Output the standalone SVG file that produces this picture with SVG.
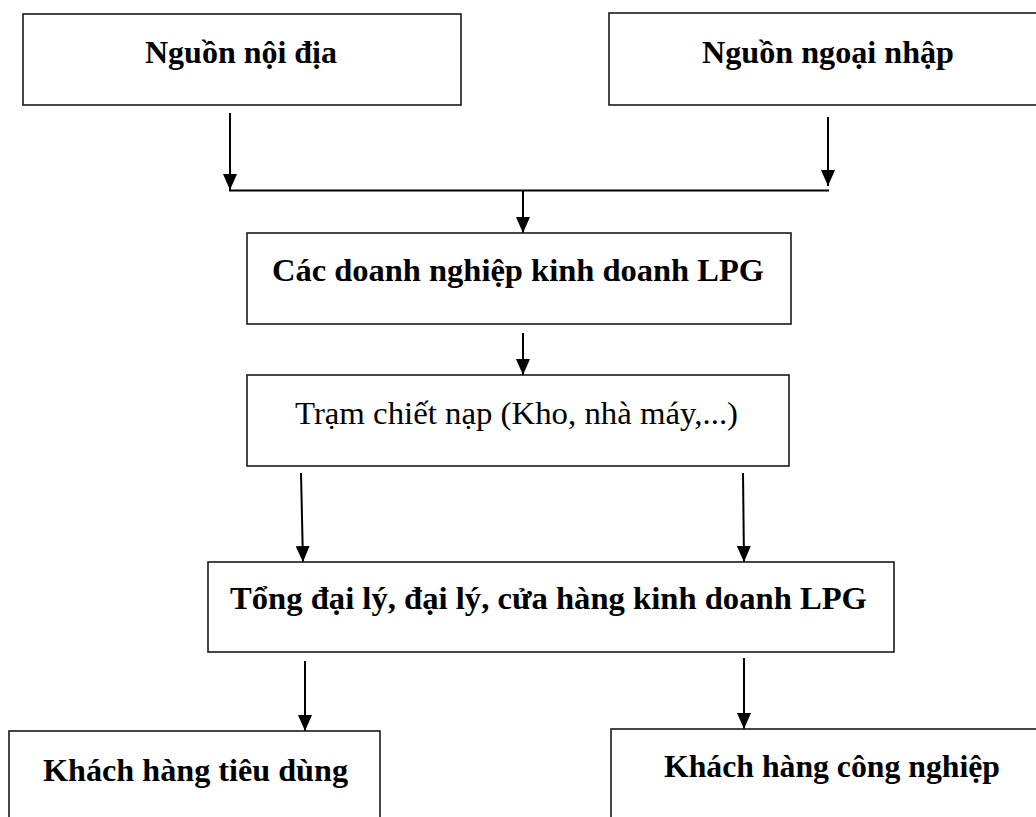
<svg xmlns="http://www.w3.org/2000/svg" width="1036" height="817" viewBox="0 0 1036 817">
  <style>
    .box { fill: #ffffff; stroke: #1a1a1a; stroke-width: 1.6; }
    .lbl { font-family: "Liberation Serif", "Times New Roman", serif; font-size: 32px; fill: #000000; text-anchor: middle; }
    .b { font-weight: bold; }
    .wire { fill: none; stroke: #000000; stroke-width: 2; }
  </style>
  <defs>
    <marker id="head" markerUnits="userSpaceOnUse" markerWidth="16" markerHeight="14" refX="16" refY="7" orient="auto">
      <path d="M0,0 L16,7 L0,14 Z" fill="#000000"/>
    </marker>
  </defs>

  <rect width="1036" height="817" fill="#ffffff"/>

  <!-- connectors -->
  <g id="connectors">
    <line class="wire" x1="230" y1="113" x2="230" y2="190" marker-end="url(#head)"/>
    <line class="wire" x1="828" y1="117" x2="828" y2="186" marker-end="url(#head)"/>
    <line class="wire" x1="229" y1="190.5" x2="829" y2="190.5"/>
    <line class="wire" x1="523" y1="190" x2="523" y2="233" marker-end="url(#head)"/>
    <line class="wire" x1="523" y1="333" x2="523" y2="375" marker-end="url(#head)"/>
    <line class="wire" x1="301" y1="473" x2="303" y2="562" marker-end="url(#head)"/>
    <line class="wire" x1="743" y1="473" x2="744" y2="562" marker-end="url(#head)"/>
    <line class="wire" x1="305" y1="661" x2="305" y2="731" marker-end="url(#head)"/>
    <line class="wire" x1="744" y1="658" x2="744" y2="729" marker-end="url(#head)"/>
  </g>

  <!-- sources -->
  <g id="node-domestic">
    <rect class="box" x="23" y="14" width="438" height="91"/>
    <text class="lbl b" x="241" y="63" textLength="192" lengthAdjust="spacingAndGlyphs">Nguồn nội địa</text>
  </g>
  <g id="node-import">
    <rect class="box" x="609" y="13" width="440" height="92"/>
    <text class="lbl b" x="828" y="63" textLength="252" lengthAdjust="spacingAndGlyphs">Nguồn ngoại nhập</text>
  </g>

  <!-- LPG businesses -->
  <g id="node-business">
    <rect class="box" x="247" y="233" width="544" height="91"/>
    <text class="lbl b" x="518" y="281" textLength="492" lengthAdjust="spacingAndGlyphs">Các doanh nghiệp kinh doanh LPG</text>
  </g>

  <!-- filling station -->
  <g id="node-station">
    <rect class="box" x="247" y="375" width="542" height="91"/>
    <text class="lbl" x="516.5" y="424" textLength="443" lengthAdjust="spacingAndGlyphs">Trạm chiết nạp (Kho, nhà máy,...)</text>
  </g>

  <!-- dealers -->
  <g id="node-dealers">
    <rect class="box" x="208" y="562" width="686" height="90"/>
    <text class="lbl b" x="548.5" y="609" textLength="637" lengthAdjust="spacingAndGlyphs">Tổng đại lý, đại lý, cửa hàng kinh doanh LPG</text>
  </g>

  <!-- customers -->
  <g id="node-consumer">
    <rect class="box" x="9" y="731" width="371" height="110"/>
    <text class="lbl b" x="195.5" y="781" textLength="305" lengthAdjust="spacingAndGlyphs">Khách hàng tiêu dùng</text>
  </g>
  <g id="node-industrial">
    <rect class="box" x="611" y="729" width="442" height="110"/>
    <text class="lbl b" x="832" y="777" textLength="336" lengthAdjust="spacingAndGlyphs">Khách hàng công nghiệp</text>
  </g>
</svg>
